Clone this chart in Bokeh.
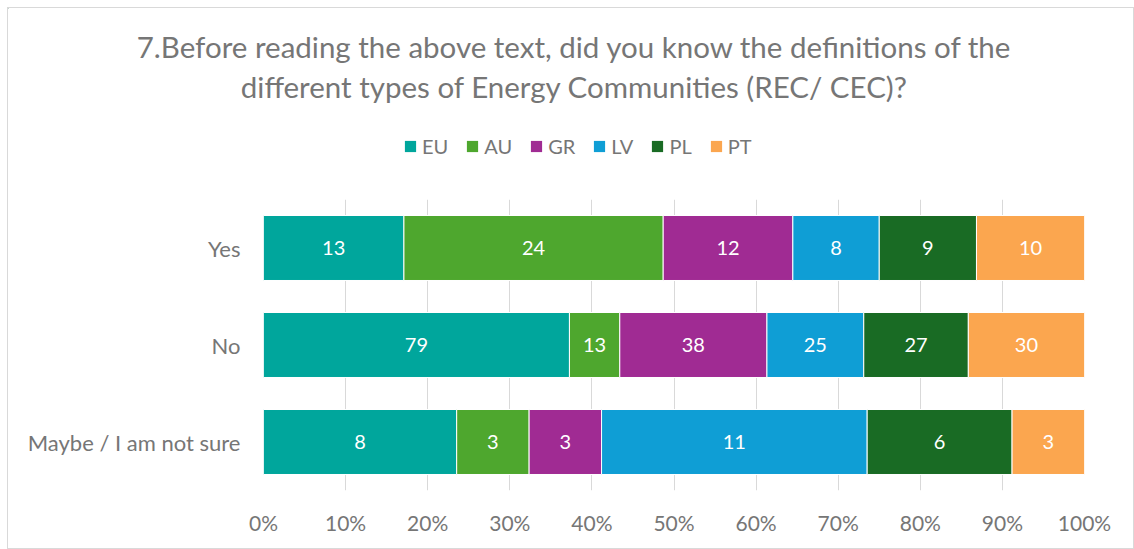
from bokeh.plotting import figure
from bokeh.layouts import column
from bokeh.models import (ColumnDataSource, FactorRange, Range1d, Legend, LegendItem,
                          NumeralTickFormatter, FixedTicker)
from bokeh.embed import file_html
from bokeh.resources import INLINE
from bokeh.core.properties import value

# ---- data ----
answers = ["Yes", "No", "Maybe / I am not sure"]
countries = ["EU", "AU", "GR", "LV", "PL", "PT"]
EU = [13, 79, 8]
AU = [24, 13, 3]
GR = [12, 38, 3]
LV = [8, 25, 11]
PL = [9, 27, 6]
PT = [10, 30, 3]
series = [EU, AU, GR, LV, PL, PT]
colors = ["#00A69C", "#4EA72E", "#A02B93", "#0F9ED5", "#196B24", "#FBA64F"]
x_ticks = [0, 0.1, 0.2, 0.3, 0.4, 0.5, 0.6, 0.7, 0.8, 0.9, 1.0]
title_lines = ["7.Before reading the above text, did you know the definitions of the",
               "different types of Energy Communities (REC/ CEC)?"]

FONT = "Lato"
TXT = "#767676"
W = 1125
H_HEAD = 191
H_MAIN = 349

totals = [sum(s[i] for s in series) for i in range(len(answers))]

# ---- header: title + legend ----
head = figure(width=W, height=H_HEAD, output_backend="svg", toolbar_location=None,
              x_range=Range1d(0, W), y_range=Range1d(H_HEAD, 0),
              x_axis_type=None, y_axis_type=None, frame_align=False,
              min_border_left=0, min_border_right=0, min_border_top=0, min_border_bottom=0)
head.grid.visible = False
head.outline_line_color = None
head.text(x=[566, 566], y=[38, 78], text=title_lines, text_align="center",
          text_baseline="middle", text_font=value(FONT), text_font_size="29.5px",
          text_color=TXT)
items = []
for name, col in zip(countries, colors):
    # legend swatch source (kept outside the visible header range)
    r = head.hbar(y=[-1000], left=[-1000], right=[-999], height=1,
                  fill_color=col, line_color=None)
    items.append(LegendItem(label=name, renderers=[r]))
legend = Legend(items=items, orientation="horizontal", location=(395, 41),
                glyph_width=14, glyph_height=14, label_text_font_size="20px",
                label_text_font=FONT, label_text_color=TXT, spacing=17,
                label_standoff=5, border_line_alpha=0, background_fill_alpha=0,
                margin=0, padding=0)
head.add_layout(legend, "center")

# ---- main chart ----
p = figure(width=W, height=H_MAIN, output_backend="svg", toolbar_location=None,
           y_range=FactorRange(factors=answers[::-1]), x_range=Range1d(0, 1),
           min_border_left=255, min_border_right=49, min_border_bottom=58,
           min_border_top=0, frame_align=False)

left = [0.0] * len(answers)
for name, vals, col in zip(countries, series, colors):
    frac = [v / t for v, t in zip(vals, totals)]
    right = [l + f for l, f in zip(left, frac)]
    mid = [(l + r) / 2 for l, r in zip(left, right)]
    src = ColumnDataSource(dict(y=answers, left=left, right=right, mid=mid,
                                lab=[str(v) for v in vals]))
    p.hbar(y="y", left="left", right="right", height=0.67, source=src,
           fill_color=col, line_color="white", line_width=1)
    p.text(x="mid", y="y", text="lab", source=src, text_color="white",
           text_align="center", text_baseline="middle",
           text_font=value(FONT), text_font_size="20px")
    left = right

p.outline_line_color = None
p.ygrid.grid_line_color = None
p.xgrid.grid_line_color = "#d9d9d9"
p.xgrid.ticker = FixedTicker(ticks=x_ticks)
p.xaxis.ticker = FixedTicker(ticks=x_ticks)
p.xaxis.formatter = NumeralTickFormatter(format="0%")
for ax in (p.xaxis, p.yaxis):
    ax.axis_line_color = None
    ax.major_tick_line_color = None
    ax.minor_tick_line_color = None
    ax.major_label_text_color = TXT
    ax.major_label_text_font = FONT
p.xaxis.major_label_text_font_size = "21px"
p.yaxis.major_label_text_font_size = "22px"
p.xaxis.major_label_standoff = 13
p.yaxis.major_label_standoff = 17

page = column(head, p, spacing=0,
              styles={"margin": "7px 0 0 7px", "border": "1px solid #d9d9d9"})
open("out.html", "w").write(file_html(page, INLINE))
